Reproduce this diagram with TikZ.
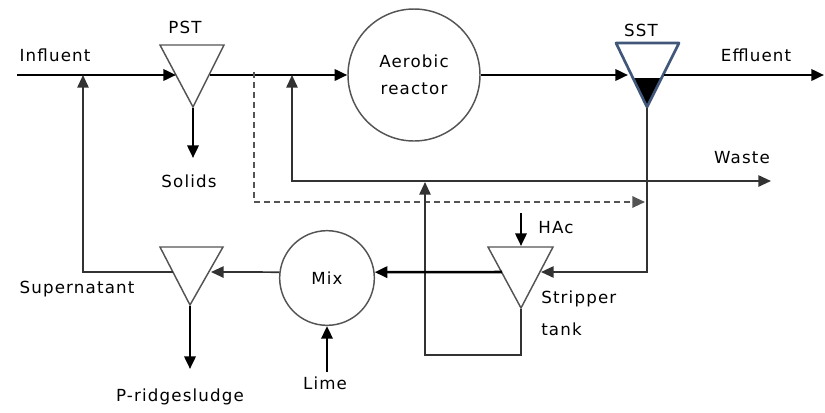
\documentclass[tikz,border=0pt]{standalone}
\usepackage{fontspec}
\setmainfont{DejaVu Sans}[LetterSpace=7]
\definecolor{linegray}{gray}{0.33}
\definecolor{sstblue}{rgb}{0.25,0.34,0.48}
\usetikzlibrary{arrows.meta,calc}
\tikzset{
  tip/.style={-{Triangle[length=9.5pt,width=8.5pt]}},
  flow/.style={line width=1.9pt,tip},
  back/.style={line width=1.3pt,linegray!60!black},
  dashflow/.style={line width=1.5pt,linegray,dash pattern=on 4.5pt off 3pt},
  tank/.style={line width=1.1pt,linegray},
  unit/.style={circle,draw=linegray,line width=1.1pt,inner sep=0pt,align=center},
  lab/.style={inner sep=0pt},
}
\begin{document}
\begin{tikzpicture}[x=0.75pt,y=-0.75pt,font=\fontsize{12.5}{15}\selectfont]
  \useasboundingbox (0,0) rectangle (825,412);
  % settlers and stripper tank (drawn as triangles)
  \draw[tank] (160,45) -- (224,45) -- (193,107) -- cycle;
  \draw[tank] (160,247) -- (223,247) -- (190,305) -- cycle;
  \draw[tank] (488,247) -- (553,247) -- (521,308) -- cycle;
  \fill (633,78) -- (661,78) -- (647,107) -- cycle;
  \draw[line width=2pt,sstblue,line join=round] (616,43) -- (679,43) -- (647,107) -- cycle;
  \coordinate (pstin) at (176,75);
  \coordinate (pstout) at (210,75);
  \coordinate (pstbot) at (193,108);
  \coordinate (sstin) at (628,75);
  \coordinate (sstout) at (664,75);
  \coordinate (sstbot) at (647,108);
  \coordinate (strin) at (541,272);
  \coordinate (strout) at (502,272);
  \coordinate (strtop) at (521,246);
  \coordinate (strbot) at (521,309);
  \coordinate (pptin) at (211,272);
  \coordinate (pptout) at (173,272);
  \coordinate (pptbot) at (190,306);
  % units
  \node[unit,minimum size=99pt] (reactor) at (414,75) {Aerobic\\[5pt]reactor};
  \node[unit,minimum size=71pt] (mix) at (327,278) {Mix};
  % free ends
  \coordinate (inflow) at (17,75);
  \coordinate (outflow) at (824,75);
  \coordinate (solids) at (193,158);
  \coordinate (sludge) at (190,369);
  \coordinate (hac) at (521,213);
  \coordinate (lime) at (327,372);
  \coordinate (waste) at (771,181);
  % labels
  \node[lab] (tInf) at (55,55) {Influent};
  \node[lab] (tPST) at (185,27) {PST};
  \node[lab] (tSST) at (641,30) {SST};
  \node[lab] (tEff) at (756,55) {Effluent};
  \node[lab] (tWaste) at (742,158) {Waste};
  \node[lab] (tSol) at (189,181) {Solids};
  \node[lab] (tHAc) at (556,228) {HAc};
  \node[lab,anchor=west,align=left] (tStr) at (541,313) {Stripper\\[9pt]tank};
  \node[lab] (tSup) at (77,289) {Supernatant};
  \node[lab] (tLime) at (325,383) {Lime};
  \node[lab] (tSlu) at (180,397) {P-ridgesludge};
  % main line
  \draw[flow] (inflow) -- (pstin);
  \draw[flow] (pstout) -- (reactor.west);
  \draw[flow] (reactor.east) -- (sstin);
  \draw[flow] (sstout) -- (outflow);
  \draw[flow] (pstbot) -- (solids);
  % recycle and wasting
  \draw[back,{Triangle[length=9.5pt,width=8.5pt]}-{Triangle[length=9.5pt,width=8.5pt]}] (292,75) |- (waste);
  \draw[dashflow,tip] (254,72) |- (645,202);
  % side stream
  \draw[back,tip] (sstbot) |- (strin);
  \draw[back,tip] (strbot) |- (425,355) -- (425,182);
  \draw[flow] (hac) -- (strtop);
  \draw[flow] (strout) -- (mix.7);
  \draw[flow] (lime) -- (mix.south);
  \draw[back,tip] (mix.173) -- (pptin);
  \draw[flow] (pptbot) -- (sludge);
  \draw[back,tip] (pptout) -| (83,75);
\end{tikzpicture}
\end{document}
